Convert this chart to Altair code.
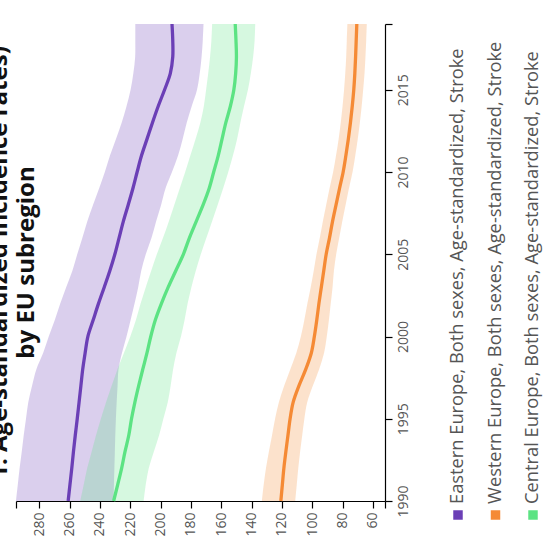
import altair as alt
import pandas as pd

years = list(range(1990, 2020))
series = [
    "Eastern Europe, Both sexes, Age-standardized, Stroke",
    "Western Europe, Both sexes, Age-standardized, Stroke",
    "Central Europe, Both sexes, Age-standardized, Stroke",
]
colors = ["#6b3fb6", "#f58a35", "#5ce383"]

eastern_val = [261.0, 259.8, 258.6, 257.5, 256.3, 255.0, 253.8, 252.6, 251.4, 249.8,
               248.0, 244.5, 241.0, 237.2, 233.5, 230.2, 227.4, 224.6, 221.4, 218.3,
               215.5, 212.6, 209.0, 205.4, 201.6, 197.4, 193.6, 192.0, 192.0, 192.5]
eastern_upper = [295.4, 294.2, 293.0, 291.6, 290.3, 288.8, 287.3, 284.8, 282.0, 277.5,
                 273.8, 269.8, 266.2, 262.3, 258.2, 255.0, 251.6, 248.4, 244.6, 240.6,
                 236.8, 233.4, 229.5, 225.7, 222.5, 219.8, 218.0, 216.8, 216.7, 216.7]
eastern_lower = [231.0, 230.8, 230.5, 230.2, 229.9, 229.5, 229.0, 228.4, 227.8, 225.5,
                 222.5, 219.8, 217.2, 214.8, 212.8, 209.8, 206.0, 203.0, 199.7, 196.8,
                 192.5, 188.5, 185.5, 182.8, 179.5, 176.0, 174.2, 173.0, 172.2, 171.7]

western_val = [120.7, 119.7, 118.7, 117.4, 116.0, 114.6, 112.6, 108.8, 104.3, 100.6,
               98.6, 97.0, 95.6, 94.0, 92.4, 90.8, 88.6, 86.6, 84.3, 82.0,
               79.6, 77.8, 76.2, 74.8, 73.6, 72.6, 71.9, 71.4, 71.0, 70.6]
western_upper = [133.2, 132.0, 130.5, 128.6, 126.5, 124.5, 122.0, 118.5, 114.5, 110.5,
                 107.5, 105.2, 103.2, 101.0, 99.0, 97.2, 95.0, 93.0, 90.8, 88.6,
                 86.2, 84.3, 82.6, 81.2, 80.0, 79.0, 78.2, 77.6, 77.2, 76.8]
western_lower = [111.2, 110.2, 109.2, 108.0, 106.6, 105.2, 103.3, 99.6, 95.5, 92.2,
                 90.4, 89.0, 87.8, 86.6, 85.7, 84.2, 82.2, 80.2, 78.0, 75.8,
                 73.4, 71.6, 70.0, 68.6, 67.4, 66.4, 65.5, 64.9, 64.4, 64.0]

central_val = [231.0, 228.3, 225.7, 223.5, 221.0, 219.2, 217.0, 214.5, 211.8, 209.0,
               206.5, 203.5, 199.5, 195.0, 190.0, 185.0, 181.0, 176.5, 172.0, 168.0,
               165.0, 162.0, 159.5, 157.0, 154.0, 151.7, 150.5, 150.0, 150.3, 150.8]
central_upper = [253.0, 250.7, 248.4, 245.5, 242.6, 239.4, 236.0, 232.3, 228.5, 224.2,
                 220.0, 216.3, 213.2, 209.8, 206.2, 202.5, 198.4, 194.6, 191.0, 187.4,
                 183.8, 180.4, 177.0, 173.8, 171.5, 170.0, 168.6, 167.4, 166.5, 166.0]
central_lower = [211.2, 209.8, 207.8, 204.5, 201.0, 198.2, 195.3, 193.4, 191.8, 189.6,
                 186.6, 184.2, 182.2, 179.7, 176.8, 173.5, 169.8, 166.1, 162.4, 158.8,
                 155.4, 152.3, 149.6, 147.4, 145.0, 142.4, 140.5, 139.0, 138.0, 137.6]

x_ticks = [280, 260, 240, 220, 200, 180, 160, 140, 120, 100, 80, 60]
y_ticks = [1990, 1995, 2000, 2005, 2010, 2015]
x_domain = [52, 295.4]
y_domain = [1990, 2019]

title_lines = ["1: Age-standardized incidence rates)", "by EU subregion"]

rows = []
for name, v, lo, hi in [
    (series[0], eastern_val, eastern_lower, eastern_upper),
    (series[1], western_val, western_lower, western_upper),
    (series[2], central_val, central_lower, central_upper),
]:
    for yr, a, b, c in zip(years, v, lo, hi):
        rows.append({"series": name, "year": yr, "val": a, "lower": b, "upper": c})
df = pd.DataFrame(rows)

xscale = alt.Scale(domain=x_domain, reverse=True, nice=False, zero=False)
yscale = alt.Scale(domain=y_domain, nice=False, zero=False)
color = alt.Color("series:N", scale=alt.Scale(domain=series, range=colors), legend=None)

label_style = dict(labelFont="Open Sans", labelFontSize=14, labelColor="#555555",
                   domainColor="#000000", tickColor="#000000", domainWidth=1.2,
                   tickWidth=1.2, tickSize=7, grid=False, title=None, labelOverlap=False)

xaxis = alt.Axis(values=[x_domain[1]] + x_ticks + [x_domain[0]], orient="bottom",
                 labelExpr="(datum.value > 290 || datum.value < 55) ? '' : datum.label",
                 labelAngle=270, labelAlign="right", labelBaseline="middle",
                 labelPadding=4, format="d", **label_style)
yaxis = alt.Axis(values=y_ticks + [y_domain[1]], orient="right",
                 labelExpr="datum.value > 2018 ? '' : datum.label",
                 labelAngle=270, labelAlign="center", labelBaseline="top",
                 labelPadding=4, format="d", **label_style)

band = alt.Chart(df).mark_area(opacity=0.25, orient="horizontal",
                               interpolate="catmull-rom").encode(
    x=alt.X("upper:Q", scale=xscale, axis=xaxis),
    x2="lower:Q",
    y=alt.Y("year:Q", scale=yscale, axis=yaxis),
    color=color,
)
line = alt.Chart(df).mark_line(strokeWidth=3.3, interpolate="catmull-rom").encode(
    x=alt.X("val:Q", scale=xscale, axis=xaxis),
    y=alt.Y("year:Q", scale=yscale, axis=yaxis),
    color=color,
    order="year:Q",
)
main = alt.layer(band, line)

leg_df = pd.DataFrame({"series": series})
leg_x = alt.X("series:N", scale=alt.Scale(domain=series, range=[442, 517], padding=0),
              axis=None)
squares = alt.Chart(leg_df).mark_square(size=90, opacity=1).encode(
    x=leg_x, y=alt.value(491), color=color)
texts = alt.Chart(leg_df).mark_text(angle=270, align="left", baseline="middle",
                                    fontSize=18.3, font="Open Sans", color="#555555").encode(
    x=leg_x, y=alt.value(480), text="series:N")
legend = alt.layer(squares, texts)

chart = alt.layer(main, legend).resolve_scale(x="independent").properties(
    width=369, height=477,
    autosize=alt.AutoSizeParams(type="none"),
    padding={"left": 16, "top": 24, "right": 161, "bottom": 35},
    background="white",
    title=alt.Title(title_lines, orient="left", anchor="middle", font="Open Sans",
                    fontSize=24, fontWeight="bold", color="#111111",
                    lineHeight=27, offset=-30),
).configure_view(stroke=None)

chart.save("out.html", embed_options={"renderer": "svg", "actions": False})
